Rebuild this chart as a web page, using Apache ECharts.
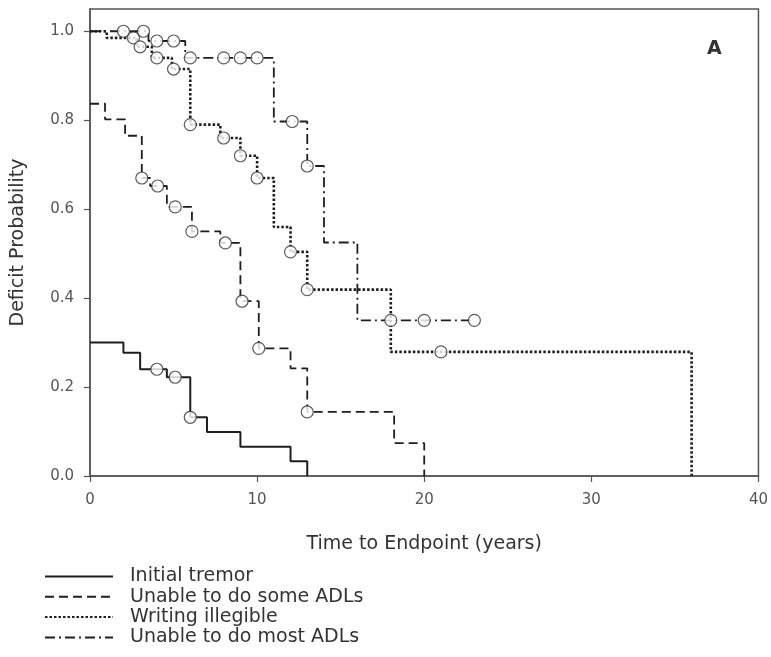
<!DOCTYPE html>
<html>
<head>
<meta charset="utf-8">
<script src="https://cdn.jsdelivr.net/npm/echarts@6/dist/echarts.min.js"></script>
<style>html,body{margin:0;padding:0;background:#fff}#c{width:771px;height:657px}</style>
</head>
<body>
<div id="c"></div>
<script>
// Series names
var seriesNames = ['Initial tremor', 'Unable to do some ADLs', 'Writing illegible', 'Unable to do most ADLs'];

// Step curves: time (years) and deficit probability
var tremorT = [0, 2, 3, 4.6, 6, 7, 9, 12, 13];
var tremorP = [0.30, 0.277, 0.24, 0.222, 0.132, 0.099, 0.066, 0.033, 0];
var tremorCensT = [4, 5.1, 6];
var tremorCensP = [0.24, 0.222, 0.132];

var someT = [0, 0.9, 2.1, 3.1, 3.6, 4.6, 6.1, 7.8, 9, 10.1, 12, 13, 18.2, 20];
var someP = [0.837, 0.802, 0.765, 0.67, 0.652, 0.605, 0.55, 0.524, 0.393, 0.287, 0.242, 0.144, 0.074, 0];
var someCensT = [3.1, 4.05, 5.1, 6.1, 8.1, 9.1, 10.1, 13];
var someCensP = [0.67, 0.652, 0.605, 0.55, 0.524, 0.393, 0.287, 0.144];

var writeT = [0, 1, 2.8, 3.7, 4.9, 6, 7.8, 9, 10, 11, 12, 13, 18, 36];
var writeP = [1.0, 0.985, 0.965, 0.94, 0.915, 0.79, 0.76, 0.72, 0.67, 0.56, 0.504, 0.419, 0.279, 0];
var writeCensT = [2.6, 3, 4, 5, 6, 8, 9, 10, 12, 13, 21];
var writeCensP = [0.985, 0.965, 0.94, 0.915, 0.79, 0.76, 0.72, 0.67, 0.504, 0.419, 0.279];

var mostT = [0, 3.5, 5.7, 11, 13, 14, 16, 23];
var mostP = [1.0, 0.978, 0.94, 0.797, 0.697, 0.525, 0.35, 0.35];
var mostCensT = [2, 3.2, 4, 5, 6, 8, 9, 10, 12.1, 13, 18, 20, 23];
var mostCensP = [1.0, 1.0, 0.978, 0.978, 0.94, 0.94, 0.94, 0.94, 0.797, 0.697, 0.35, 0.35, 0.35];

var xTicks = [0, 10, 20, 30, 40];
var yTicks = [0, 0.2, 0.4, 0.6, 0.8, 1.0];

function pairs(t, p) { return t.map(function (v, i) { return [v, p[i]]; }); }

var FONT = 'DejaVu Sans';
var INK = '#1e1e1e';
var lineStyles = [
  { type: 'solid', width: 2 },
  { type: [9, 5], width: 1.8 },
  { type: [2.5, 2], width: 2.6 },
  { type: [10, 4, 2, 4], width: 1.8 }
];
var curves = [pairs(tremorT, tremorP), pairs(someT, someP), pairs(writeT, writeP), pairs(mostT, mostP)];
var cens = [pairs(tremorCensT, tremorCensP), pairs(someCensT, someCensP), pairs(writeCensT, writeCensP), pairs(mostCensT, mostCensP)];

var series = [];
curves.forEach(function (d, i) {
  series.push({
    name: seriesNames[i], type: 'line', step: 'end', data: d,
    symbol: 'none', showSymbol: false, animation: false, z: 2, legendIcon: 'none',
    lineStyle: { color: INK, type: lineStyles[i].type, width: lineStyles[i].width },
    itemStyle: { color: INK }
  });
});
cens.forEach(function (d, i) {
  series.push({
    name: 'cens' + i, type: 'scatter', data: d, symbol: 'circle', symbolSize: 12,
    animation: false, z: 3,
    itemStyle: { color: '#fff', borderColor: '#333', borderWidth: 1.2 }
  });
});

var chart = echarts.init(document.getElementById('c'), null, { renderer: 'canvas' });
chart.setOption({
  animation: false,
  backgroundColor: '#fff',
  textStyle: { fontFamily: FONT },
  grid: { left: 90, right: 9, top: 9, bottom: 181, show: true, borderColor: '#555', borderWidth: 1.5, backgroundColor: 'transparent' },
  legend: {
    data: seriesNames, orient: 'vertical', left: 44, top: 567, height: 90, padding: 0,
    itemWidth: 68, itemHeight: 20, itemGap: 1.3,
    selectedMode: false,
    itemStyle: { opacity: 0 },
    textStyle: { fontFamily: FONT, fontSize: 19, color: '#333', padding: [0, 0, 0, 12] }
  },
  xAxis: {
    type: 'value', min: 0, max: 40, interval: 10,
    name: 'Time to Endpoint (years)', nameLocation: 'middle', nameGap: 59,
    nameTextStyle: { fontFamily: FONT, fontSize: 19, color: '#333' },
    axisLine: { lineStyle: { color: '#555', width: 1.5 } },
    axisTick: { show: true, inside: false, length: 6, lineStyle: { color: '#555', width: 1.2 }, customValues: xTicks },
    axisLabel: { fontFamily: FONT, fontSize: 15, color: '#555', margin: 17, customValues: xTicks },
    splitLine: { show: false }
  },
  yAxis: {
    type: 'value', min: 0, max: 1.05,
    name: 'Deficit Probability', nameLocation: 'middle', nameGap: 62, nameRotate: 90,
    nameTextStyle: { fontFamily: FONT, fontSize: 19, color: '#333' },
    axisLine: { show: true, lineStyle: { color: '#555', width: 1.5 } },
    axisTick: { show: true, inside: false, length: 6, lineStyle: { color: '#555', width: 1.2 }, customValues: yTicks },
    axisLabel: { fontFamily: FONT, fontSize: 15, color: '#555', margin: 16, customValues: yTicks,
      formatter: function (v) { return v.toFixed(1); } },
    splitLine: { show: false }
  },
  graphic: [{
    type: 'text', left: 707, top: 40,
    style: { text: 'A', font: 'bold 19px ' + FONT, fill: '#333' }
  }],
  series: series
});
</script>
</body>
</html>
